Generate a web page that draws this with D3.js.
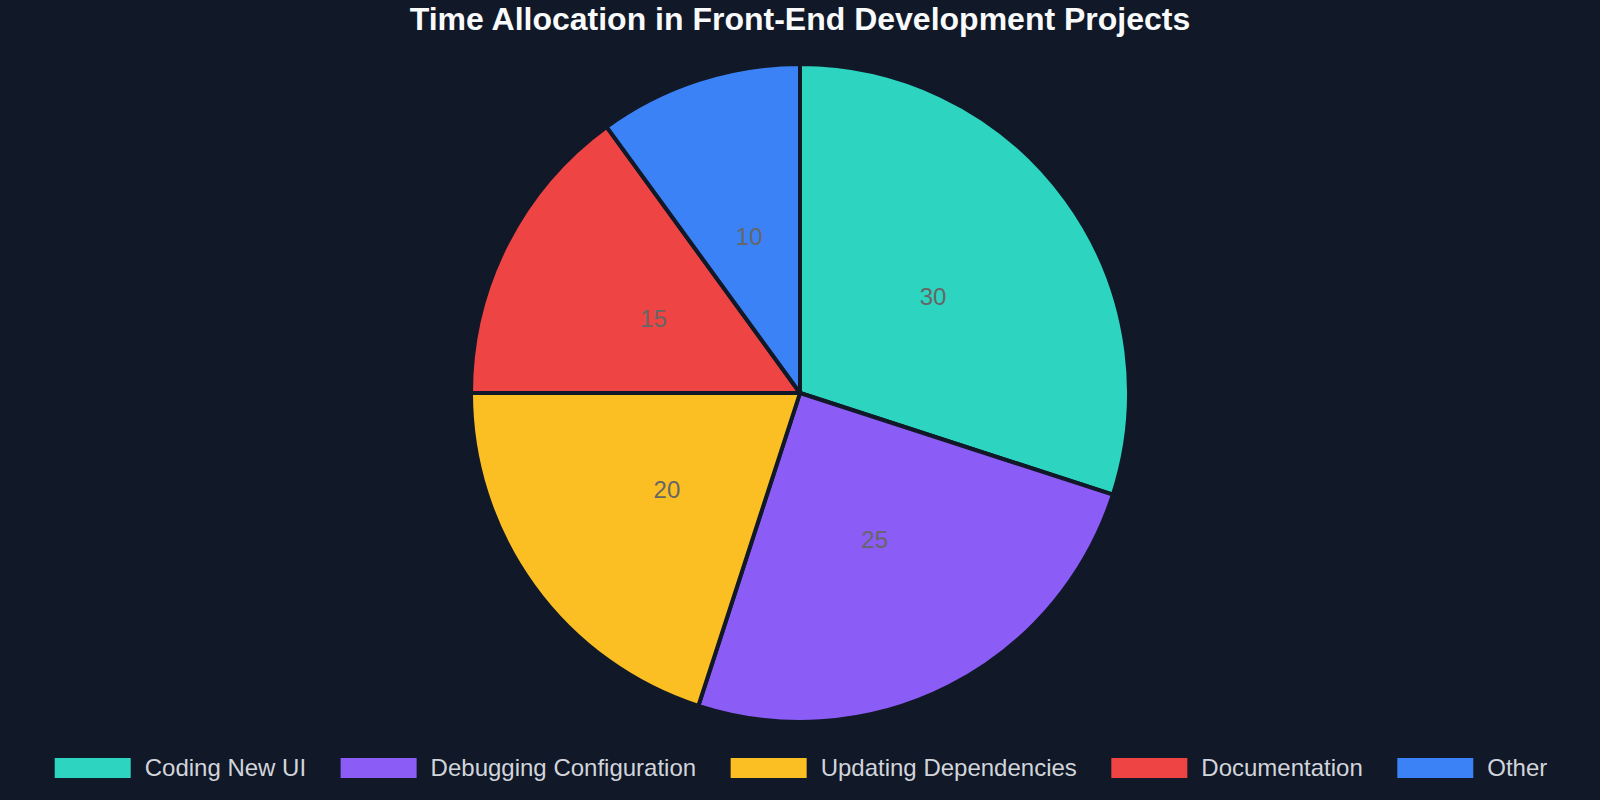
<!DOCTYPE html>
<html>
<head>
<meta charset="utf-8">
<script src="https://cdn.jsdelivr.net/npm/d3@7"></script>
<style>
  html, body { margin: 0; padding: 0; background: #111827; }
  svg { display: block; font-family: "Liberation Sans", Arial, sans-serif; }
</style>
</head>
<body>
<svg id="chart"></svg>
<script>
const categories = ["Coding New UI", "Debugging Configuration", "Updating Dependencies", "Documentation", "Other"];
const values = [30, 25, 20, 15, 10];
const colors = ["#2dd4bf", "#8b5cf6", "#fbbf24", "#ef4444", "#3b82f6"];
const title = "Time Allocation in Front-End Development Projects";

const width = 1600,
	height = 800;
const cx = 800, cy = 393, radius = 329;

const svg = d3.select("#chart")
	.attr("width", width)
	.attr("height", height);

svg.append("rect")
	.attr("width", width)
	.attr("height", height)
	.attr("fill", "#111827");

svg.append("text")
	.attr("x", width / 2)
	.attr("y", 30)
	.attr("text-anchor", "middle")
	.attr("fill", "#f9fafb")
	.attr("font-size", 32)
	.attr("font-weight", "bold")
	.text(title);

const data = categories.map((c, i) => ({ name: c, value: values[i], color: colors[i] }));

const pie = d3.pie()
	.value(d => d.value)
	.sort(null);

const arc = d3.arc()
	.innerRadius(0)
	.outerRadius(radius);

const g = svg.append("g")
	.attr("transform", `translate(${cx},${cy})`);

const arcs = pie(data);

g.selectAll("path")
	.data(arcs)
	.join("path")
	.attr("d", arc)
	.attr("fill", d => d.data.color)
	.attr("stroke", "#111827")
	.attr("stroke-width", 4)
	.attr("stroke-linejoin", "round");

g.selectAll("text.label")
	.data(arcs)
	.join("text")
	.attr("class", "label")
	.attr("transform", d => `translate(${arc.centroid(d)})`)
	.attr("text-anchor", "middle")
	.attr("dominant-baseline", "central")
	.attr("fill", "#666666")
	.attr("font-size", 24)
	.text(d => d.data.value);

// legend, laid out in one row and centred
const swatchW = 76, swatchH = 20, textGap = 14, itemGap = 34.5;
const legend = svg.append("g");
const items = legend.selectAll("g")
	.data(data)
	.join("g");

items.append("rect")
	.attr("width", swatchW)
	.attr("height", swatchH)
	.attr("y", 758)
	.attr("fill", d => d.color);

items.append("text")
	.attr("x", swatchW + textGap)
	.attr("y", 767.5)
	.attr("dominant-baseline", "central")
	.attr("fill", "#d1d5db")
	.attr("font-size", 24)
	.text(d => d.name);

let xPos = 0;
items.each(function() {
	const w = swatchW + textGap + d3.select(this).select("text").node().getComputedTextLength();
	d3.select(this).attr("transform", `translate(${xPos},0)`);
	xPos += w + itemGap;
});
const total = xPos - itemGap;
legend.attr("transform", `translate(${(width - total) / 2 + 1},0)`);
</script>
</body>
</html>
